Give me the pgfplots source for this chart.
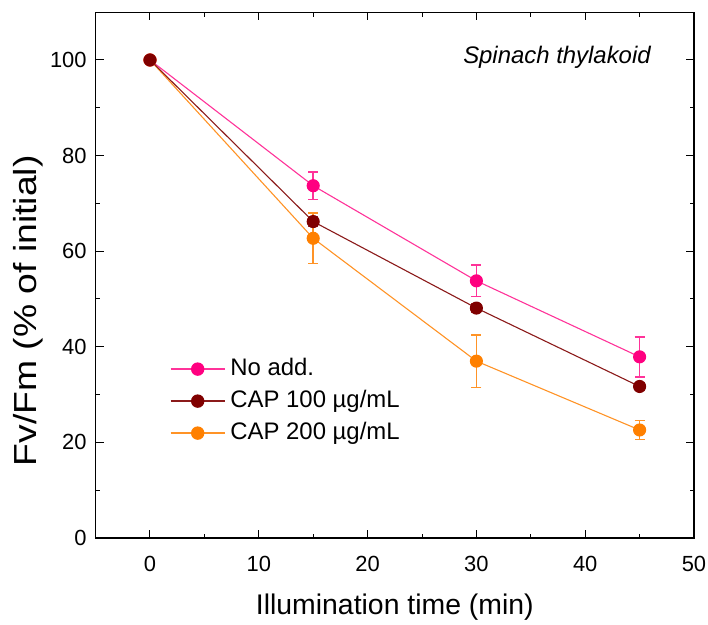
\documentclass[border=0pt]{standalone}
\usepackage{pgfplots}
\pgfplotsset{compat=1.18}
\usepackage{pgfplotstable}
\usepackage{graphicx}
\usepackage{fontspec}
\setmainfont{Liberation Sans}

% series colours
\definecolor{noaddMk}{HTML}{FF0080}
\definecolor{noaddLn}{HTML}{FF3399}
\definecolor{noaddEr}{HTML}{FF3399}
\definecolor{capAMk}{HTML}{800000}
\definecolor{capALn}{HTML}{8B1A1A}
\definecolor{capAEr}{HTML}{A03030}
\definecolor{capBMk}{HTML}{FF8000}
\definecolor{capBLn}{HTML}{FF9326}
\definecolor{capBEr}{HTML}{FF9326}

% Fv/Fm (% of initial) versus illumination time, mean and error
\pgfplotstableread{
t   v     e
0   100   0
15  73.7  2.9
30  53.8  3.3
45  37.9  4.2
}\noadd
\pgfplotstableread{
t   v     e
0   100   0
15  66.2  1.0
30  48.1  0.8
45  31.7  0.8
}\capA
\pgfplotstableread{
t   v     e
0   100   0
15  62.7  5.3
30  37.0  5.5
45  22.6  2.0
}\capB

\begin{document}
\begin{tikzpicture}
\begin{axis}[
  scale only axis,
  width=598.4bp, height=525.8bp,
  xmin=-5, xmax=50, ymin=0, ymax=110,
  xtick={0,10,...,50}, ytick={0,20,...,100},
  minor x tick num=1, minor y tick num=1,
  tick align=inside,
  major tick length=8bp, minor tick length=4.5bp,
  axis line style={line width=1.3bp},
  every tick/.style={black, line width=1bp},
  /pgf/number format/assume math mode=true,
  tick label style={font=\fontsize{22}{22}\selectfont},
  xticklabel style={yshift=-15bp},
  yticklabel style={xshift=-5.5bp},
  xlabel={Illumination time (min)},
  xlabel style={at={(rel axis cs:0.5,-0.132)}, anchor=center,
    font=\fontsize{28.5}{28.5}\selectfont},
  ylabel={\scalebox{1.17}[1]{Fv/Fm (\% of initial)}},
  ylabel style={at={(rel axis cs:-0.113,0.432)}, anchor=center,
    font=\fontsize{32}{32}\selectfont},
  legend image code/.code={%
    \draw[mark repeat=2, mark phase=2, #1]
      plot coordinates {(0bp,0bp) (27bp,0bp) (54bp,0bp)};},
  legend cell align=left,
  legend style={at={(rel axis cs:0.124,0.352)}, anchor=north west,
    draw=none, fill=none, inner sep=0pt, row sep=0pt,
    font=\fontsize{24}{24}\selectfont,
    nodes={text height=17bp, text depth=5bp, inner ysep=5bp, inner xsep=5bp}},
  clip=false,
]

% legend entries
\addlegendimage{noaddLn, line width=1.4bp, mark=*, mark size=6bp,
  mark options={noaddMk, fill=noaddMk}}
\addlegendentry{No add.}
\addlegendimage{capALn, line width=1.4bp, mark=*, mark size=6bp,
  mark options={capAMk, fill=capAMk}}
\addlegendentry{CAP 100 µg/mL}
\addlegendimage{capBLn, line width=1.4bp, mark=*, mark size=6bp,
  mark options={capBMk, fill=capBMk}}
\addlegendentry{CAP 200 µg/mL}

% data
\addplot[noaddLn, line width=1.1bp, mark=*, mark size=6bp,
  mark options={noaddMk, fill=noaddMk},
  error bars/.cd, y dir=both, y explicit,
  error bar style={color=noaddEr, line width=1.6bp},
  error mark options={rotate=90, mark size=5bp, color=noaddEr, line width=1.6bp}]
  table[x=t, y=v, y error=e] {\noadd};
\addplot[capBLn, line width=1.1bp, mark=*, mark size=6bp,
  mark options={capBMk, fill=capBMk},
  error bars/.cd, y dir=both, y explicit,
  error bar style={color=capBEr, line width=1.6bp},
  error mark options={rotate=90, mark size=5bp, color=capBEr, line width=1.6bp}]
  table[x=t, y=v, y error=e] {\capB};
\addplot[capALn, line width=1.1bp, mark=*, mark size=6bp,
  mark options={capAMk, fill=capAMk},
  error bars/.cd, y dir=both, y explicit,
  error bar style={color=capAEr, line width=1.6bp},
  error mark options={rotate=90, mark size=5bp, color=capAEr, line width=1.6bp}]
  table[x=t, y=v, y error=e] {\capA};

\node[anchor=base, font=\fontsize{24}{24}\selectfont\itshape]
  at (rel axis cs:0.771,0.9028) {Spinach thylakoid};

\coordinate (bl) at (rel axis cs:0,0);
\end{axis}
\pgfresetboundingbox
\path[use as bounding box] (bl) ++(-95.6bp,-87bp) rectangle ++(708bp,625bp);
\end{tikzpicture}
\end{document}
